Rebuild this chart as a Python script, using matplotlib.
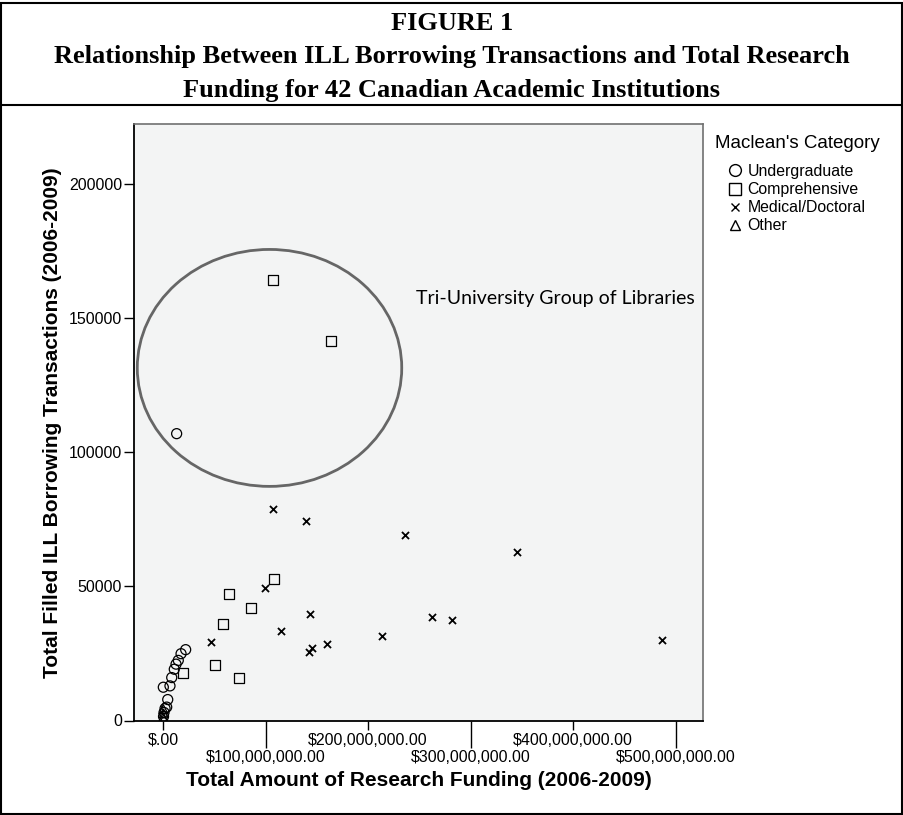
import matplotlib.pyplot as plt
from matplotlib.patches import Ellipse, Rectangle
from matplotlib.lines import Line2D
from matplotlib.ticker import FuncFormatter, FixedLocator

# research funding in millions of dollars, ILL borrowing transactions
ug_funding = [13.3, 22.1, 17.6, 14.9, 12.7, 11.0, 8.5, 6.8, 0.3, 4.6, 3.6, 2.0, 1.0, 0.5]
ug_ill = [106900, 26400, 24900, 22400, 21000, 19100, 16000, 12900, 12400, 7800, 5000, 4500, 3000, 1500]

comp_funding = [107.6, 163.9, 108.3, 64.4, 85.5, 58.9, 50.7, 74.5, 19.2]
comp_ill = [164300, 141500, 52700, 47100, 42000, 36000, 20500, 16000, 17800]

md_funding = [107.0, 139.5, 236.4, 345.1, 99.5, 143.4, 262.4, 281.6, 114.8,
              213.3, 486.5, 46.5, 159.7, 145.7, 142.4]
md_ill = [78800, 74500, 69000, 62700, 49300, 39700, 38600, 37300, 33300,
          31600, 30100, 29300, 28600, 27000, 25500]

other_funding = [0.2, 0.6, 0.4, 0.9]
other_ill = [1200, 2600, 4200, 600]

categories = ['Undergraduate', 'Comprehensive', 'Medical/Doctoral', 'Other']
y_ticks = [0, 50000, 100000, 150000, 200000]
x_major = [0, 200e6, 400e6]
x_minor = [100e6, 300e6, 500e6]

title_lines = ['FIGURE 1',
               'Relationship Between ILL Borrowing Transactions and Total Research',
               'Funding for 42 Canadian Academic Institutions']

W, H = 904, 815
fig = plt.figure(figsize=(W / 100, H / 100), dpi=100)
plt.rcParams['font.family'] = ['Liberation Sans', 'DejaVu Sans']

ax = fig.add_axes([134 / W, 1 - 720.5 / H, (703 - 134) / W, (720.5 - 124) / H])
ax.set_facecolor('#f3f4f4')


def musd(v):
    return [x * 1e6 for x in v]


ms = 52
ax.scatter(musd(ug_funding), ug_ill, s=ms, marker='o', facecolors='none',
           edgecolors='black', linewidths=0.9, zorder=3)
ax.scatter(musd(comp_funding), comp_ill, s=ms, marker='s', facecolors='none',
           edgecolors='black', linewidths=0.9, zorder=3)
ax.scatter(musd(md_funding), md_ill, s=26, marker='x', color='black',
           linewidths=1.3, zorder=3)
ax.scatter(musd(other_funding), other_ill, s=40, marker='^', facecolors='none',
           edgecolors='black', linewidths=0.9, zorder=3)

ax.set_xlim(-28.3e6, 526.8e6)
ax.set_ylim(0, 222300)

# annotation ellipse round the Tri-University group
ax.add_patch(Ellipse((103.9e6, 131400), 258e6, 88300, fill=False,
                     ec='#666666', lw=2.0, zorder=2))
ax.text(246.8e6, 157400, 'Tri-University Group of Libraries', fontsize=14,
        family='Lato', va='center', ha='left', color='black')


def money(v, pos=None):
    s = f"{v:,.2f}"
    if s.startswith('0'):
        s = s[1:]
    return '$' + s


ax.xaxis.set_major_locator(FixedLocator(x_major))
ax.xaxis.set_minor_locator(FixedLocator(x_minor))
ax.xaxis.set_major_formatter(FuncFormatter(money))
ax.xaxis.set_minor_formatter(FuncFormatter(money))
ax.tick_params(axis='x', which='major', length=6.7, width=1, pad=2, labelsize=11.5)
ax.tick_params(axis='x', which='minor', length=19.2, width=1, pad=2, labelsize=11.5)
ax.set_yticks(y_ticks)
ax.set_yticklabels([str(v) for v in y_ticks])
ax.tick_params(axis='y', length=7.2, width=1, pad=1.5, labelsize=11.5)

for s in ['left', 'bottom']:
    ax.spines[s].set_color('black')
    ax.spines[s].set_linewidth(1.3)
for s in ['top', 'right']:
    ax.spines[s].set_color('#707070')
    ax.spines[s].set_linewidth(1.2)

ax.set_xlabel('Total Amount of Research Funding (2006-2009)', fontsize=15,
              fontweight='bold', labelpad=4)
ax.set_ylabel('Total Filled ILL Borrowing Transactions (2006-2009)', fontsize=15,
              fontweight='bold', labelpad=5)

# legend
fig.text(715 / W, 1 - 143.3 / H, "Maclean's Category", fontsize=13.5, va='center')
handles = [
    Line2D([], [], marker='o', ls='none', mfc='none', mec='black', ms=8.5, mew=1),
    Line2D([], [], marker='s', ls='none', mfc='none', mec='black', ms=8.5, mew=1),
    Line2D([], [], marker='x', ls='none', color='black', ms=6, mew=1),
    Line2D([], [], marker='^', ls='none', mfc='none', mec='black', ms=6.5, mew=1),
]
fig.legend(handles, categories, loc='upper left', bbox_to_anchor=(729 / W, 1 - 164 / H),
           frameon=False, fontsize=11.4, handlelength=0.76, handletextpad=0.42,
           labelspacing=0.2, borderpad=0, borderaxespad=0)

# title block
title_base = [30, 63.5, 96.5]
for line, yy in zip(title_lines, title_base):
    fig.text(0.5, 1 - yy / H, line, ha='center', va='baseline', fontsize=19,
             family='Liberation Serif', fontweight='bold')

fig.add_artist(Line2D([0, 1], [1 - 105 / H, 1 - 105 / H], color='black', lw=1.5,
                      transform=fig.transFigure))
fig.add_artist(Rectangle((1 / W, 1 / H), (W - 2.5) / W, (H - 3.5) / H, fill=False,
                         ec='black', lw=1.5, transform=fig.transFigure))

fig.savefig('out.png', dpi=100)
